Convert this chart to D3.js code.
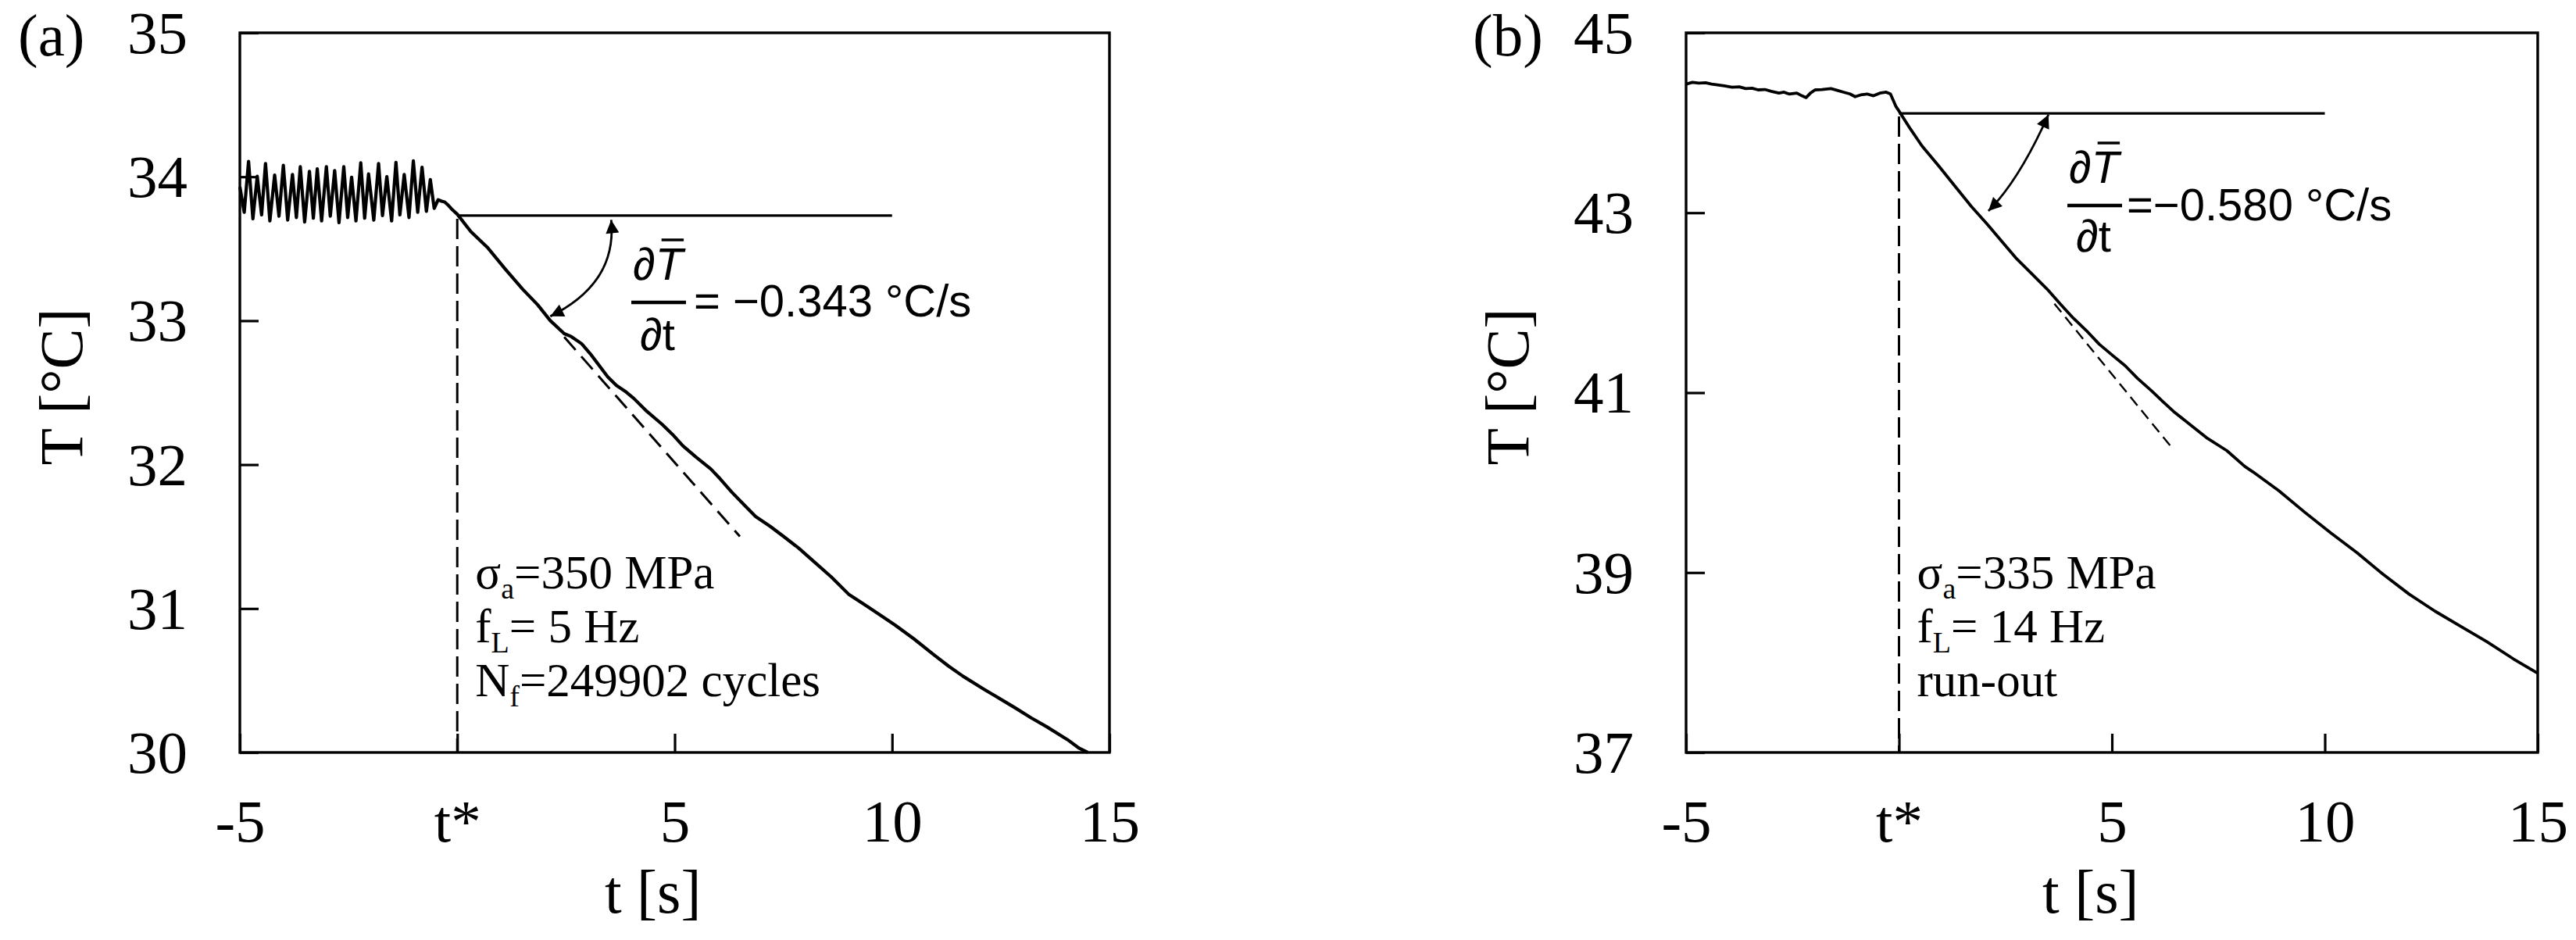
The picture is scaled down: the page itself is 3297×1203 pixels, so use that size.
<!DOCTYPE html>
<html lang="en">
<head>
<meta charset="UTF-8">
<title>Temperature drop at t*</title>
<script src="https://d3js.org/d3.v7.min.js"></script>
<style>
  body { margin: 0; background: #fff; }
  svg { display: block; background: #fff; }
  .serif { font-family: "Liberation Serif", "Times New Roman", serif; fill: #000; }
  .sans { font-family: "Liberation Sans", Arial, sans-serif; fill: #000; }
</style>
</head>
<body>
<svg id="chart" width="3297" height="1203"></svg>
<script>
// shared time axis
const timeTicks = [-5, 0, 5, 10, 15];
const timeTickLabels = ["-5", "t*", "5", "10", "15"];

const tempTicksA = [30, 31, 32, 33, 34, 35];
const tempTicksB = [37, 39, 41, 43, 45];

// (a) 350 MPa, 5 Hz  -- [t, T]
const seriesA = [
  [-5.00, 33.93], [-4.90, 33.753], [-4.80, 34.106], [-4.70, 33.708], [-4.60, 34.003],
  [-4.50, 33.735], [-4.41, 34.092], [-4.31, 33.693], [-4.20, 34.012], [-4.10, 33.726],
  [-4.00, 34.079], [-3.90, 33.699], [-3.79, 34.016], [-3.70, 33.717], [-3.61, 34.070],
  [-3.51, 33.686], [-3.40, 34.037], [-3.31, 33.712], [-3.22, 34.055], [-3.12, 33.693],
  [-3.01, 34.070], [-2.92, 33.726], [-2.82, 34.043], [-2.72, 33.681], [-2.61, 34.070],
  [-2.52, 33.717], [-2.43, 33.997], [-2.33, 33.693], [-2.22, 34.097], [-2.13, 33.712],
  [-2.04, 34.019], [-1.92, 33.699], [-1.81, 34.092], [-1.72, 33.730], [-1.62, 34.001],
  [-1.51, 33.693], [-1.41, 34.100], [-1.32, 33.735], [-1.22, 34.016], [-1.11, 33.717],
  [-1.01, 34.110], [-0.91, 33.753], [-0.81, 34.066], [-0.71, 33.760], [-0.62, 33.980],
  [-0.53, 33.780], [-0.44, 33.840], [-0.36, 33.830], [-0.29, 33.825], [-0.20, 33.800],
  [-0.11, 33.770], [0.00, 33.740], [0.31, 33.620], [0.69, 33.510], [1.10, 33.360],
  [1.50, 33.220], [1.85, 33.110], [2.14, 33.000], [2.46, 32.910], [2.62, 32.890],
  [2.86, 32.840], [3.06, 32.770], [3.26, 32.690], [3.46, 32.610], [3.66, 32.550],
  [3.86, 32.510], [4.06, 32.460], [4.36, 32.370], [4.71, 32.280], [4.95, 32.210],
  [5.19, 32.130], [5.50, 32.050], [5.83, 31.970], [6.05, 31.900], [6.31, 31.810],
  [6.60, 31.720], [6.86, 31.640], [7.20, 31.570], [7.51, 31.500], [7.85, 31.420],
  [8.15, 31.340], [8.60, 31.220], [9.00, 31.100], [9.40, 31.020], [9.75, 30.950],
  [10.07, 30.885], [10.50, 30.790], [10.97, 30.677], [11.30, 30.600], [11.63, 30.530],
  [12.11, 30.440], [12.50, 30.370], [12.83, 30.310], [13.20, 30.240], [13.55, 30.180],
  [14.03, 30.090], [14.30, 30.030], [14.50, 30.000]
];

// (b) 335 MPa, 14 Hz
const seriesB = [
  [-5.00, 44.430], [-4.85, 44.450], [-4.70, 44.440], [-4.54, 44.445], [-4.40, 44.430],
  [-4.23, 44.420], [-4.10, 44.410], [-3.92, 44.395], [-3.75, 44.400], [-3.60, 44.380],
  [-3.45, 44.385], [-3.31, 44.366], [-3.15, 44.370], [-3.00, 44.350], [-2.82, 44.330],
  [-2.70, 44.340], [-2.58, 44.320], [-2.40, 44.330], [-2.28, 44.300], [-2.18, 44.280],
  [-2.08, 44.330], [-1.97, 44.366], [-1.81, 44.370], [-1.60, 44.380], [-1.45, 44.360],
  [-1.30, 44.340], [-1.15, 44.320], [-1.03, 44.290], [-0.90, 44.310], [-0.75, 44.320],
  [-0.60, 44.300], [-0.45, 44.330], [-0.30, 44.340], [-0.20, 44.320], [-0.07, 44.180],
  [0.00, 44.130], [0.27, 43.930], [0.54, 43.743], [0.95, 43.510], [1.34, 43.280],
  [1.70, 43.070], [2.07, 42.874], [2.40, 42.690], [2.74, 42.500], [3.10, 42.330],
  [3.48, 42.150], [3.80, 41.980], [4.09, 41.830], [4.40, 41.690], [4.70, 41.540],
  [5.00, 41.420], [5.31, 41.300], [5.60, 41.160], [5.93, 41.020], [6.20, 40.900],
  [6.45, 40.790], [6.85, 40.640], [7.22, 40.500], [7.70, 40.355], [8.12, 40.180],
  [8.31, 40.120], [8.92, 39.910], [9.53, 39.670], [10.14, 39.440], [10.76, 39.220],
  [11.37, 38.980], [11.98, 38.760], [12.59, 38.570], [13.20, 38.400], [13.81, 38.230],
  [14.43, 38.040], [15.00, 37.880]
];

// fitted cooling rate at t* and the horizontal reference
const slopeA = -0.343, refTempA = 33.73, tangentSpanA = [2.46, 6.50];
const slopeB = -0.580, refTempB = 44.105, tangentSpanB = [3.65, 6.37];
const refLineEnd = 10;

// angle arrows: start, control, end  [t, T]
const arcA = [[3.54, 33.70], [3.68, 33.26], [2.14, 33.03]];
const arcB = [[3.51, 44.09], [2.82, 43.36], [2.10, 43.02]];

const slopeTextA = "= \u22120.343 \u00B0C/s";
const slopeTextB = "=\u22120.580 \u00B0C/s";
const infoA = [["\u03C3", "a", "=350 MPa"], ["f", "L", "= 5 Hz"], ["N", "f", "=249902 cycles"]];
const infoB = [["\u03C3", "a", "=335 MPa"], ["f", "L", "= 14 Hz"], ["run-out", "", ""]];

const panels = [
  {
    tag: "(a)", tagX: 23, left: 307, right: 1420, ticks: tempTicksA, domain: [30, 35],
    data: seriesA, lineW: 4.2, slope: slopeA, ref: refTempA, span: tangentSpanA, tanDash: "22 11", tanW: 3,
    arc: arcA, slopeText: slopeTextA, info: infoA,
    numX: 810, numY: 358, barX: [808, 878], barY: 387, denX: 819, denY: 448, eqX: 888, eqY: 405
  },
  {
    tag: "(b)", tagX: 1885, left: 2158, right: 3248, ticks: tempTicksB, domain: [37, 45],
    data: seriesB, lineW: 3.8, slope: slopeB, ref: refTempB, span: tangentSpanB, tanDash: "14 8", tanW: 2.4,
    arc: arcB, slopeText: slopeTextB, info: infoB,
    numX: 2648, numY: 234, barX: [2646, 2716], barY: 263, denX: 2657, denY: 322, eqX: 2722, eqY: 282
  }
];

const plotTop = 42, plotBottom = 963;
const svg = d3.select("#chart");

svg.append("defs").append("marker")
    .attr("id", "head")
    .attr("viewBox", "0 0 10 10")
    .attr("refX", 10)
    .attr("refY", 5)
    .attr("markerUnits", "userSpaceOnUse")
    .attr("markerWidth", 36)
    .attr("markerHeight", 17)
    .attr("orient", "auto-start-reverse")
    .append("path")
    .attr("d", "M0,0L10,5L0,10z")
    .attr("fill", "#000");

panels.forEach(p => {
    let x = d3.scaleLinear().domain([-5, 15]).range([p.left, p.right]);
    let y = d3.scaleLinear().domain(p.domain).range([plotBottom, plotTop]);
    let g = svg.append("g");

    // axes with inward ticks
    let xAxis = d3.axisBottom(x).tickValues(timeTicks)
        .tickFormat((d, i) => timeTickLabels[i]).tickSizeInner(-24).tickSizeOuter(0);
    g.append("g").attr("transform", `translate(0,${plotBottom})`).call(xAxis)
        .call(a => a.select(".domain").remove())
        .call(a => a.selectAll("line").attr("stroke-width", 3.2))
        .call(a => a.selectAll("text").attr("class", "serif").attr("font-size", 77)
            .attr("y", 114).attr("dy", null));

    let yAxis = d3.axisLeft(y).tickValues(p.ticks).tickFormat(d3.format("d"))
        .tickSizeInner(-24).tickSizeOuter(0);
    g.append("g").attr("transform", `translate(${p.left},0)`).call(yAxis)
        .call(a => a.select(".domain").remove())
        .call(a => a.selectAll("line").attr("stroke-width", 3.2))
        .call(a => a.selectAll("text").attr("class", "serif").attr("font-size", 77)
            .attr("x", -67).attr("dy", "0.33em"));

    g.append("rect")
        .attr("x", p.left).attr("y", plotTop)
        .attr("width", p.right - p.left).attr("height", plotBottom - plotTop)
        .attr("fill", "none").attr("stroke", "#000").attr("stroke-width", 3.4);

    // titles
    g.append("text").attr("class", "serif").attr("font-size", 77)
        .attr("x", p.tagX).attr("y", 71).text(p.tag);
    g.append("text").attr("class", "serif").attr("font-size", 78)
        .attr("text-anchor", "middle")
        .attr("x", x(4.5)).attr("y", 1168).text("t [s]");
    g.append("text").attr("class", "serif").attr("font-size", 78)
        .attr("text-anchor", "middle")
        .attr("transform", `translate(${p.left - 202},495) rotate(-90)`)
        .text("T [\u00B0C]");

    // reference lines at t*
    g.append("line")
        .attr("x1", x(0)).attr("x2", x(0))
        .attr("y1", y(p.ref) + 4).attr("y2", plotBottom)
        .attr("stroke", "#000").attr("stroke-width", 3).attr("stroke-dasharray", "26 9");
    g.append("line")
        .attr("x1", x(0)).attr("x2", x(refLineEnd))
        .attr("y1", y(p.ref)).attr("y2", y(p.ref))
        .attr("stroke", "#000").attr("stroke-width", 3.2);
    g.append("line")
        .attr("x1", x(p.span[0])).attr("y1", y(p.ref + p.slope * p.span[0]))
        .attr("x2", x(p.span[1])).attr("y2", y(p.ref + p.slope * p.span[1]))
        .attr("stroke", "#000").attr("stroke-width", p.tanW).attr("stroke-dasharray", p.tanDash);

    // measured temperature
    let line = d3.line().x(d => x(d[0])).y(d => y(d[1]));
    g.append("path").datum(p.data)
        .attr("d", line)
        .attr("fill", "none").attr("stroke", "#000")
        .attr("stroke-width", p.lineW).attr("stroke-linejoin", "round");

    // double-headed angle arrow
    let pt = d => [x(d[0]), y(d[1])];
    let [a0, c, a1] = p.arc.map(pt);
    g.append("path")
        .attr("d", `M${a0[0]},${a0[1]}Q${c[0]},${c[1]} ${a1[0]},${a1[1]}`)
        .attr("fill", "none").attr("stroke", "#000").attr("stroke-width", 2.8)
        .attr("marker-start", "url(#head)").attr("marker-end", "url(#head)");

    // dT/dt fraction
    let num = g.append("text").attr("class", "sans").attr("font-size", 58)
        .attr("x", p.numX).attr("y", p.numY);
    num.append("tspan").text("\u2202");
    num.append("tspan").attr("font-style", "italic").text("T");
    let ext = num.node().getExtentOfChar(1);
    g.append("line")
        .attr("x1", ext.x + 8).attr("x2", ext.x + ext.width + 1)
        .attr("y1", p.numY - 51).attr("y2", p.numY - 51)
        .attr("stroke", "#000").attr("stroke-width", 3.5);
    g.append("line")
        .attr("x1", p.barX[0]).attr("x2", p.barX[1])
        .attr("y1", p.barY).attr("y2", p.barY)
        .attr("stroke", "#000").attr("stroke-width", 4.5);
    g.append("text").attr("class", "sans").attr("font-size", 58)
        .attr("x", p.denX).attr("y", p.denY).text("\u2202t");
    g.append("text").attr("class", "sans").attr("font-size", 58)
        .attr("x", p.eqX).attr("y", p.eqY).text(p.slopeText);

    // test conditions
    p.info.forEach((row, i) => {
        let t = g.append("text").attr("class", "serif").attr("font-size", 61)
            .attr("x", x(0) + 23).attr("y", 753 + i * 69);
        t.append("tspan").text(row[0]);
        if (row[1]) {
            t.append("tspan").attr("font-size", 38).attr("dy", 13).text(row[1]);
            t.append("tspan").attr("dy", -13).text(row[2]);
        }
    });
});
</script>
</body>
</html>
